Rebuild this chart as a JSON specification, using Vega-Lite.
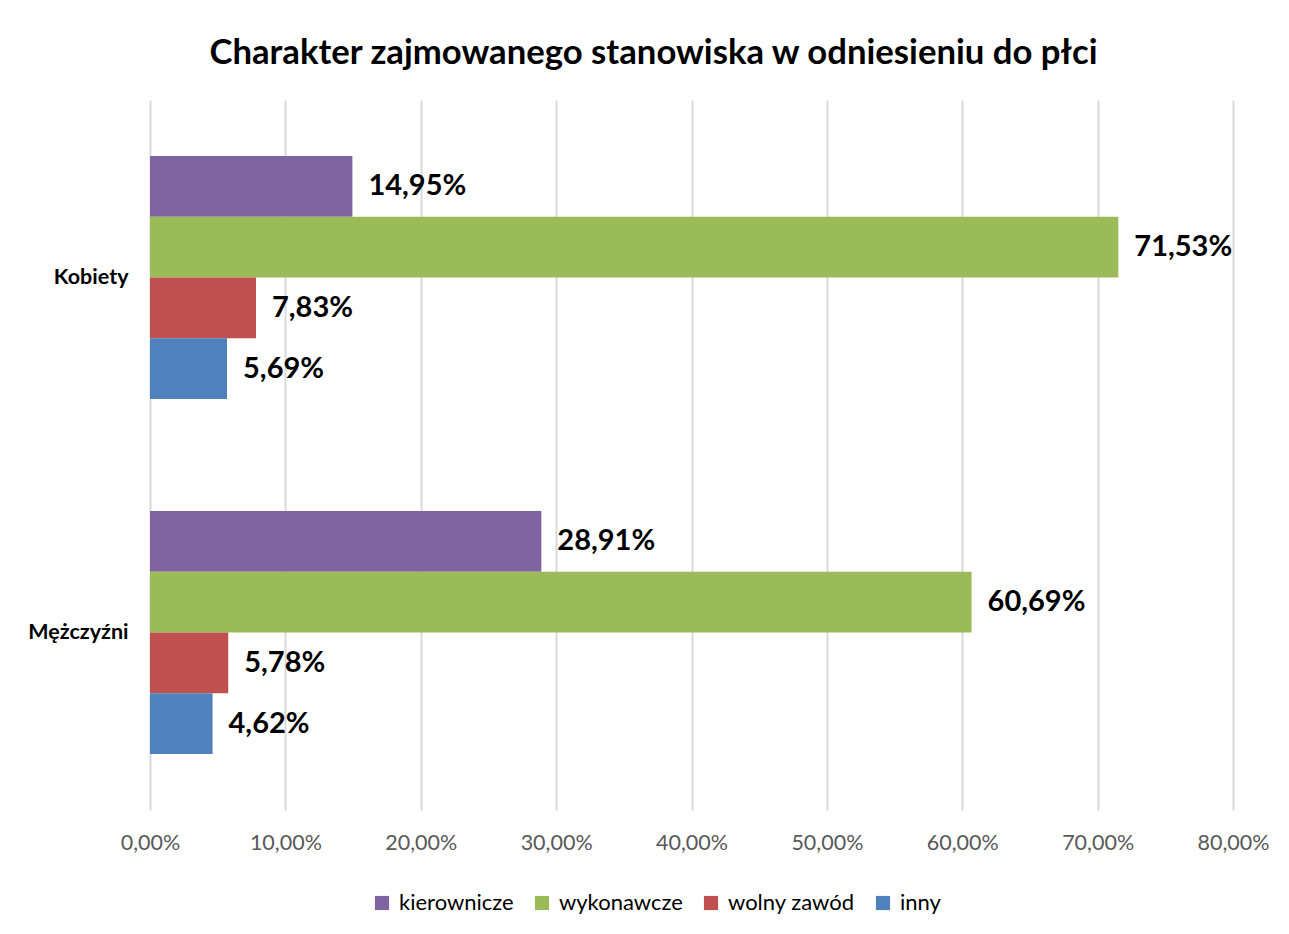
{
  "$schema": "https://vega.github.io/schema/vega-lite/v6.json",
  "width": 1083,
  "height": 710,
  "autosize": {"type": "none"},
  "padding": {"left": 150, "top": 100, "right": 56, "bottom": 124},
  "background": "white",
  "title": {
    "text": "Charakter zajmowanego stanowiska w odniesieniu do płci",
    "font": "Lato",
    "fontSize": 34.7,
    "fontWeight": "bold",
    "color": "#000000",
    "anchor": "middle",
    "dx": -38,
    "offset": 28
  },
  "config": {
    "locale": {"number": {"decimal": ",", "thousands": " ", "grouping": [3], "currency": ["", " zł"]}},
    "view": {"stroke": null},
    "font": "Lato"
  },
  "data": {
    "values": [
      {"plec": "Kobiety", "stanowisko": "kierownicze", "udzial": 0.1495},
      {"plec": "Kobiety", "stanowisko": "wykonawcze", "udzial": 0.7153},
      {"plec": "Kobiety", "stanowisko": "wolny zawód", "udzial": 0.0783},
      {"plec": "Kobiety", "stanowisko": "inny", "udzial": 0.0569},
      {"plec": "Mężczyźni", "stanowisko": "kierownicze", "udzial": 0.2891},
      {"plec": "Mężczyźni", "stanowisko": "wykonawcze", "udzial": 0.6069},
      {"plec": "Mężczyźni", "stanowisko": "wolny zawód", "udzial": 0.0578},
      {"plec": "Mężczyźni", "stanowisko": "inny", "udzial": 0.0462}
    ]
  },
  "encoding": {
    "y": {
      "field": "plec", "type": "nominal", "sort": ["Kobiety", "Mężczyźni"],
      "scale": {"paddingInner": 0, "paddingOuter": 0},
      "axis": {"title": null, "domain": false, "ticks": false, "labelFontWeight": "bold", "labelFontSize": 21.5, "labelColor": "#000000", "labelPadding": 22, "labelFont": "Lato"}
    },
    "yOffset": {
      "field": "stanowisko", "type": "nominal",
      "sort": ["kierownicze", "wykonawcze", "wolny zawód", "inny"],
      "scale": {"paddingInner": 0, "paddingOuter": 0.92}
    },
    "x": {
      "field": "udzial", "type": "quantitative",
      "scale": {"domain": [0, 0.8], "nice": false},
      "axis": {"title": null, "format": ".2%", "values": [0, 0.1, 0.2, 0.3, 0.4, 0.5, 0.6, 0.7, 0.8], "labelOverlap": false, "labelBound": false, "labelFlush": false, "domain": false, "ticks": false, "grid": true, "gridColor": "#d9d9d9", "gridWidth": 2, "labelFontSize": 21.5, "labelColor": "#595959", "labelPadding": 22, "labelFont": "Lato"}
    }
  },
  "layer": [
    {
      "mark": {"type": "bar"},
      "encoding": {
        "color": {
          "field": "stanowisko", "type": "nominal",
          "sort": ["kierownicze", "wykonawcze", "wolny zawód", "inny"],
          "scale": {"domain": ["kierownicze", "wykonawcze", "wolny zawód", "inny"], "range": ["#8064A2", "#9BBB59", "#C0504D", "#4F81BD"]},
          "legend": {
            "title": null, "orient": "none", "direction": "horizontal",
            "legendX": 221, "legendY": 792,
            "symbolType": "square", "symbolSize": 200, "symbolStrokeWidth": 0,
            "labelFontSize": 22, "labelColor": "#000000", "labelFont": "Lato",
            "columnPadding": 17, "labelOffset": 6
          }
        }
      }
    },
    {
      "mark": {"type": "text", "align": "left", "baseline": "middle", "dx": 16, "fontSize": 29, "fontWeight": "bold", "color": "#000000", "font": "Lato"},
      "encoding": {
        "text": {"field": "udzial", "type": "quantitative", "format": ".2%"}
      }
    }
  ]
}
